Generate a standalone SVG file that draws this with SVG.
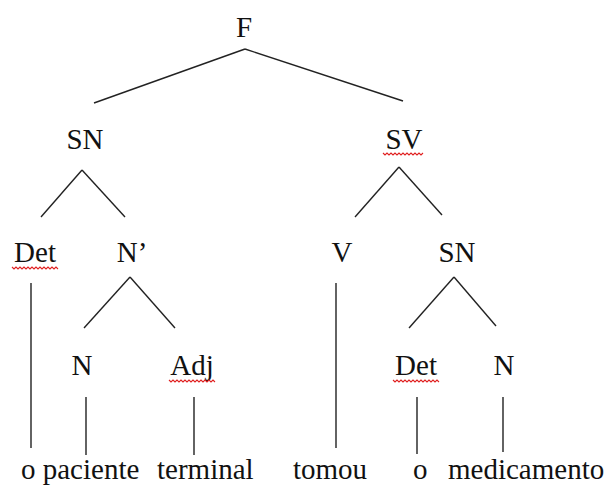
<svg xmlns="http://www.w3.org/2000/svg" width="607" height="486" viewBox="0 0 607 486">
<style>
text{font-family:"Liberation Serif","Times New Roman",serif;font-size:29px;fill:#111;}
.l{stroke:#222;stroke-width:1.4;fill:none;}
.sq{stroke:#e02020;stroke-width:1.1;fill:none;}
</style>
<rect width="607" height="486" fill="#fff"/>
<g id="connectors">
<line class="l" x1="245" y1="49" x2="94" y2="103"/>
<line class="l" x1="245" y1="49" x2="403" y2="101"/>
<line class="l" x1="82" y1="170" x2="41" y2="217"/>
<line class="l" x1="82" y1="170" x2="125" y2="217"/>
<line class="l" x1="399" y1="167" x2="355" y2="217"/>
<line class="l" x1="399" y1="167" x2="442" y2="215"/>
<line class="l" x1="130" y1="277" x2="84" y2="328"/>
<line class="l" x1="130" y1="277" x2="175" y2="328"/>
<line class="l" x1="454" y1="277" x2="409" y2="328"/>
<line class="l" x1="454" y1="277" x2="496" y2="326"/>
<line class="l" x1="31" y1="283" x2="31" y2="448"/>
<line class="l" x1="336" y1="283" x2="336" y2="448"/>
<line class="l" x1="86" y1="397" x2="86" y2="455"/>
<line class="l" x1="194" y1="397" x2="194" y2="455"/>
<line class="l" x1="417" y1="397" x2="417" y2="454"/>
<line class="l" x1="503" y1="397" x2="503" y2="452"/>
</g>
<g id="F"><text x="244" y="37" text-anchor="middle">F</text></g>
<g id="SN1"><text x="85" y="149" text-anchor="middle">SN</text></g>
<g id="SV"><text x="404" y="149" text-anchor="middle">SV</text>
<path class="sq" d="M383,153 l2,2 l2,-2 l2,2 l2,-2 l2,2 l2,-2 l2,2 l2,-2 l2,2 l2,-2 l2,2 l2,-2 l2,2 l2,-2 l2,2 l2,-2 l2,2 l2,-2 l2,2 l2,-2"/></g>
<g id="Det1"><text x="35" y="262" text-anchor="middle">Det</text>
<path class="sq" d="M12,267 l2,2 l2,-2 l2,2 l2,-2 l2,2 l2,-2 l2,2 l2,-2 l2,2 l2,-2 l2,2 l2,-2 l2,2 l2,-2 l2,2 l2,-2 l2,2 l2,-2 l2,2 l2,-2 l2,2 l2,-2 l2,2"/></g>
<g id="Nbar"><text x="132" y="262" text-anchor="middle">N’</text></g>
<g id="V"><text x="342" y="262" text-anchor="middle">V</text></g>
<g id="SN2"><text x="457" y="262" text-anchor="middle">SN</text></g>
<g id="N1"><text x="82" y="375" text-anchor="middle">N</text></g>
<g id="Adj"><text x="192" y="375" text-anchor="middle">Adj</text>
<path class="sq" d="M169,380 l2,2 l2,-2 l2,2 l2,-2 l2,2 l2,-2 l2,2 l2,-2 l2,2 l2,-2 l2,2 l2,-2 l2,2 l2,-2 l2,2 l2,-2 l2,2 l2,-2 l2,2 l2,-2 l2,2 l2,-2 l2,2"/></g>
<g id="Det2"><text x="416" y="375" text-anchor="middle">Det</text>
<path class="sq" d="M393,380 l2,2 l2,-2 l2,2 l2,-2 l2,2 l2,-2 l2,2 l2,-2 l2,2 l2,-2 l2,2 l2,-2 l2,2 l2,-2 l2,2 l2,-2 l2,2 l2,-2 l2,2 l2,-2 l2,2 l2,-2 l2,2"/></g>
<g id="N2"><text x="504" y="375" text-anchor="middle">N</text></g>
<g id="words">
<text x="21" y="479">o paciente</text>
<text x="157" y="479">terminal</text>
<text x="293" y="479">tomou</text>
<text x="413" y="479">o</text>
<text x="448" y="479">medicamento</text>
</g>
</svg>
